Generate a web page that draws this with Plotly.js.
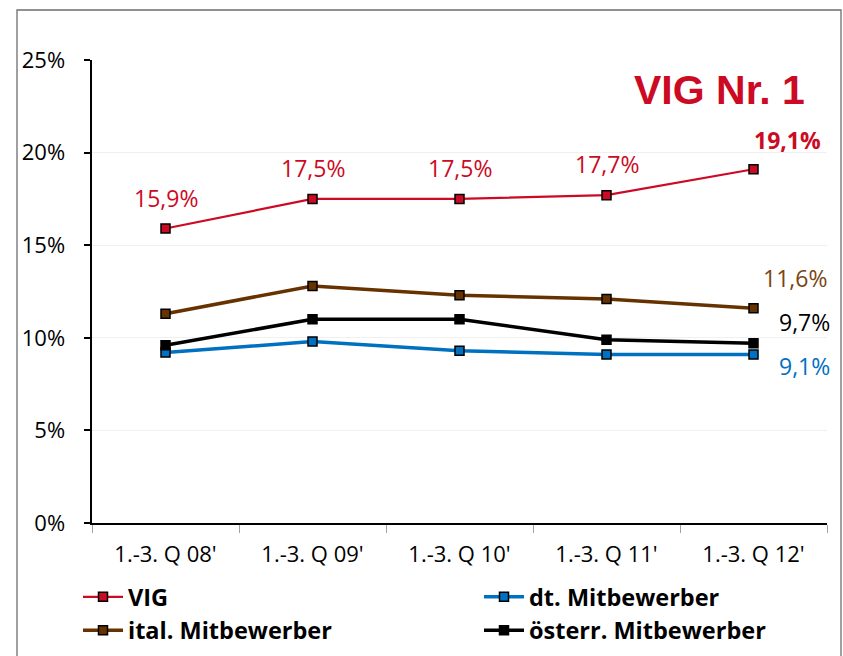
<!DOCTYPE html>
<html>
<head>
<meta charset="utf-8">
<script src="https://cdn.plot.ly/plotly-3.0.1.min.js"></script>
<style>
html,body{margin:0;padding:0;background:#fff;}
#chart{width:843px;height:656px;}
</style>
</head>
<body>
<div id="chart"></div>
<script>
// ---- data ----
const categories = ["1.-3. Q 08'", "1.-3. Q 09'", "1.-3. Q 10'", "1.-3. Q 11'", "1.-3. Q 12'"];
const vig = [15.9, 17.5, 17.5, 17.7, 19.1];
const dtMitbewerber = [9.2, 9.8, 9.3, 9.1, 9.1];
const italMitbewerber = [11.3, 12.8, 12.3, 12.1, 11.6];
const oesterrMitbewerber = [9.6, 11.0, 11.0, 9.9, 9.7];
const seriesNames = ["VIG", "dt. Mitbewerber", "ital. Mitbewerber", "österr. Mitbewerber"];
const yTickVals = [0, 5, 10, 15, 20, 25];
const yTickText = ["0%", "5%", "10%", "15%", "20%", "25%"];
const headline = "VIG Nr. 1";

const RED = "#cc0a24", BLUE = "#0070c0", BROWN = "#663300", BLACK = "#000000";
const FONT = "Open Sans, Liberation Sans, sans-serif";

function fmt(v){ return v.toFixed(1).replace(".", ",") + "%"; }

function trace(name, y, color, width, legendId){
  return {
    type: "scatter", mode: "lines+markers", name: name, legend: legendId,
    x: categories, y: y,
    line: {color: color, width: width},
    marker: {symbol: "square", size: 9, color: color, line: {color: "#000", width: 1.5}},
    cliponaxis: false, hoverinfo: "skip"
  };
}

const data = [
  trace(seriesNames[0], vig, RED, 2.2, "legend"),
  trace(seriesNames[1], dtMitbewerber, BLUE, 3.5, "legend2"),
  trace(seriesNames[2], italMitbewerber, BROWN, 3.5, "legend"),
  trace(seriesNames[3], oesterrMitbewerber, BLACK, 3.5, "legend2")
];

const L = 92, R = 16, T = 60, B = 133, W = 843, H = 656;
const pw = W - L - R, ph = H - T - B;
const px = v => (v - L) / pw;
const py = v => (H - B - v) / ph;

const annotations = [];
const last = categories.length - 1;
const LBL = 23;
for (let i = 0; i < last; i++) {
  annotations.push({x: categories[i], y: vig[i], xref: "x", yref: "y", text: fmt(vig[i]),
    showarrow: false, yshift: 31, font: {family: FONT, size: LBL, color: RED}});
}
annotations.push({x: categories[last], y: vig[last], xref: "x", yref: "y", text: "<b>" + fmt(vig[last]) + "</b>",
  showarrow: false, xshift: 34, yshift: 29, font: {family: FONT, size: LBL, color: RED}});
annotations.push({x: categories[last], y: italMitbewerber[last], xref: "x", yref: "y", text: fmt(italMitbewerber[last]),
  showarrow: false, xshift: 41, yshift: 30, font: {family: FONT, size: LBL, color: "#7a4510"}});
annotations.push({x: categories[last], y: oesterrMitbewerber[last], xref: "x", yref: "y", text: fmt(oesterrMitbewerber[last]),
  showarrow: false, xshift: 51, yshift: 21, font: {family: FONT, size: LBL, color: BLACK}});
annotations.push({x: categories[last], y: dtMitbewerber[last], xref: "x", yref: "y", text: fmt(dtMitbewerber[last]),
  showarrow: false, xshift: 51, yshift: -12, font: {family: FONT, size: LBL, color: BLUE}});
annotations.push({xref: "paper", yref: "paper", x: px(807), y: py(90), xanchor: "right", yanchor: "middle",
  text: "<b>" + headline + "</b>", showarrow: false,
  font: {family: "Liberation Sans, Arial, sans-serif", size: 41, color: RED}});

const legendCommon = {
  orientation: "v", yanchor: "top", xanchor: "left", traceorder: "normal",
  font: {family: FONT, size: 23.5, color: "#000", weight: "bold"},
  bgcolor: "rgba(0,0,0,0)", itemwidth: 40, tracegroupgap: 0,
  itemclick: false, itemdoubleclick: false
};

const layout = {
  width: W, height: H,
  margin: {l: L, r: R, t: T, b: B, autoexpand: false},
  paper_bgcolor: "#ffffff", plot_bgcolor: "#ffffff",
  showlegend: true,
  font: {family: FONT, size: 22, color: "#000"},
  xaxis: {
    type: "category", range: [-0.5, 4.5],
    showline: true, linecolor: "#000", linewidth: 1.5,
    ticks: "outside", tickson: "boundaries", ticklen: 8, tickcolor: "#a0a0a0", tickwidth: 1,
    showgrid: false, zeroline: false,
    tickfont: {family: FONT, size: 22, color: "#000"},
    ticklabelstandoff: 11,
    fixedrange: true
  },
  yaxis: {
    range: [0, 25], tickvals: yTickVals, ticktext: yTickText,
    showline: true, linecolor: "#000", linewidth: 2.5,
    ticks: "outside", ticklen: 6, tickcolor: "#000", tickwidth: 2,
    showgrid: true, gridcolor: "#f0f0f0", gridwidth: 1, zeroline: false,
    tickfont: {family: FONT, size: 22, color: "#000"},
    ticklabelstandoff: 14,
    fixedrange: true
  },
  legend: Object.assign({}, legendCommon, {x: px(78), y: py(575)}),
  legend2: Object.assign({}, legendCommon, {x: px(479), y: py(575)}),
  shapes: [{
    type: "rect", xref: "paper", yref: "paper",
    x0: px(17), x1: px(841), y0: py(670), y1: py(10),
    line: {color: "#6e6e6e", width: 1.3}, fillcolor: "rgba(0,0,0,0)", layer: "below"
  }],
  annotations: annotations
};

Plotly.newPlot("chart", data, layout, {displayModeBar: false, staticPlot: true});
</script>
</body>
</html>
